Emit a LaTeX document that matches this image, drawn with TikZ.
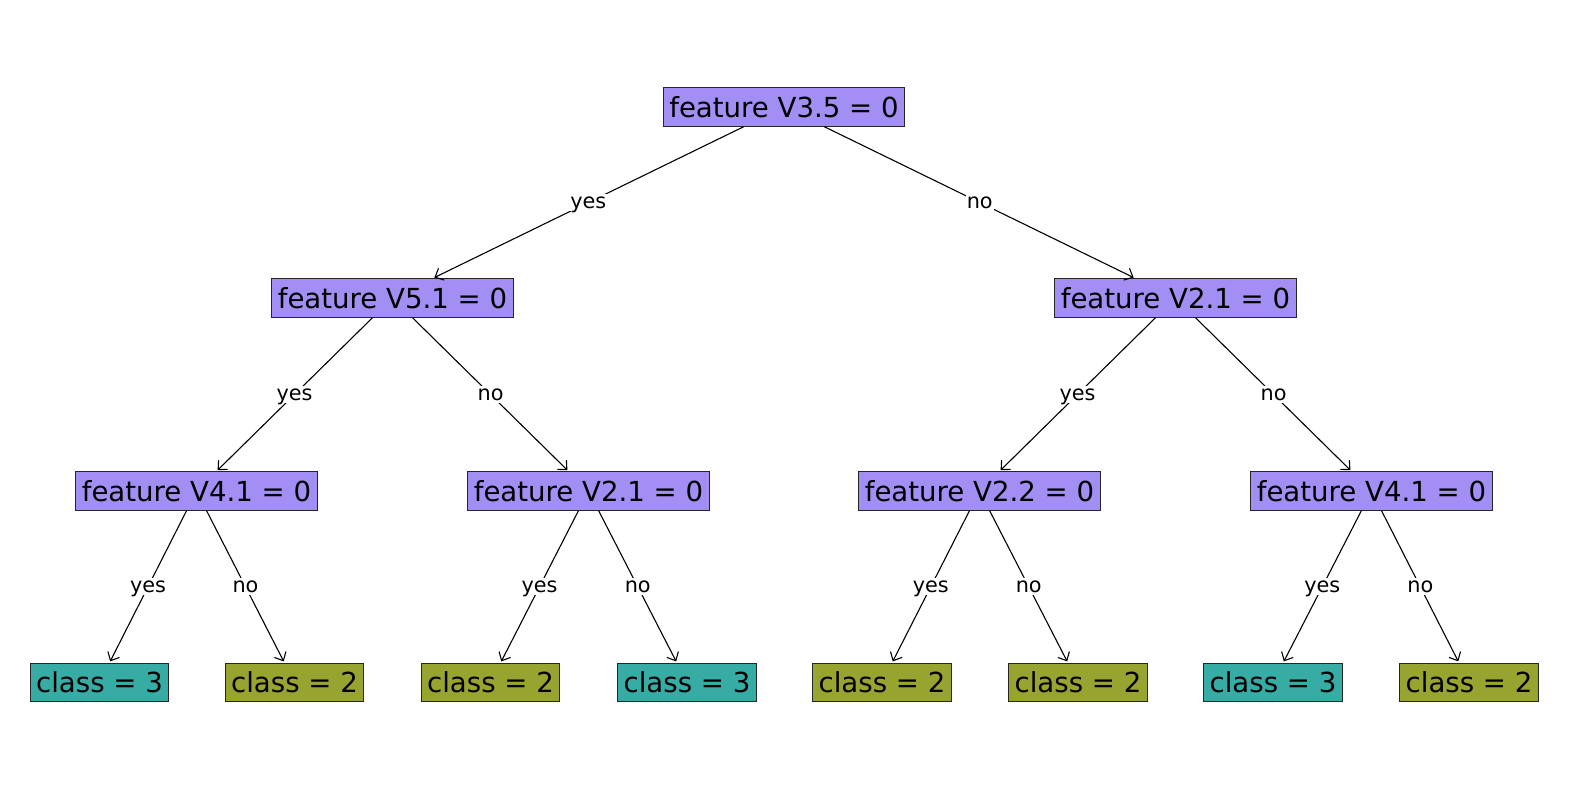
\documentclass[tikz,border=0pt]{standalone}
\usepackage{fontspec}
\setmainfont{DejaVu Sans}
\usetikzlibrary{arrows.meta}

\definecolor{splitfill}{RGB}{163,142,243}
\definecolor{classthree}{RGB}{54,172,164}
\definecolor{classtwo}{RGB}{151,164,48}

\begin{document}
\begin{tikzpicture}[
  x=1pt, y=-1pt,
  box/.style={draw=black!85, line width=1pt, inner xsep=6pt, inner ysep=0pt,
              minimum height=38.5pt, font=\fontsize{27.6}{30}\selectfont},
  split/.style={box, fill=splitfill},
  leafthree/.style={box, fill=classthree},
  leaftwo/.style={box, fill=classtwo},
  edge/.style={line width=1.1pt, -{Straight Barb[length=7pt, width=13pt]}, shorten >=1.5pt},
  lbl/.style={fill=white, inner sep=1pt, text height=13pt, text depth=2pt,
              font=\fontsize{20.8}{24}\selectfont}
]
  \useasboundingbox (0,0) rectangle (1570,790);
  \node[split] (r) at (784,107) {feature V3.5 = 0};
  \node[split] (a) at (392.5,298) {feature V5.1 = 0};
  \node[split] (b) at (1175.5,298) {feature V2.1 = 0};
  \draw[edge] (r) -- node[lbl] {yes} (a);
  \draw[edge] (r) -- node[lbl] {no} (b);
  \node[split] (aa) at (196.5,491) {feature V4.1 = 0};
  \node[split] (ab) at (588.5,491) {feature V2.1 = 0};
  \node[split] (ba) at (979.5,491) {feature V2.2 = 0};
  \node[split] (bb) at (1371.5,491) {feature V4.1 = 0};
  \draw[edge] (a) -- node[lbl] {yes} (aa);
  \draw[edge] (a) -- node[lbl] {no} (ab);
  \draw[edge] (b) -- node[lbl] {yes} (ba);
  \draw[edge] (b) -- node[lbl] {no} (bb);
  \node[leafthree] (l1) at (99.5,682.5) {class = 3};
  \node[leaftwo] (l2) at (294.5,682.5) {class = 2};
  \node[leaftwo] (l3) at (490.5,682.5) {class = 2};
  \node[leafthree] (l4) at (687,682.5) {class = 3};
  \node[leaftwo] (l5) at (882,682.5) {class = 2};
  \node[leaftwo] (l6) at (1078,682.5) {class = 2};
  \node[leafthree] (l7) at (1273,682.5) {class = 3};
  \node[leaftwo] (l8) at (1469,682.5) {class = 2};
  \draw[edge] (aa) -- node[lbl] {yes} (l1);
  \draw[edge] (aa) -- node[lbl] {no} (l2);
  \draw[edge] (ab) -- node[lbl] {yes} (l3);
  \draw[edge] (ab) -- node[lbl] {no} (l4);
  \draw[edge] (ba) -- node[lbl] {yes} (l5);
  \draw[edge] (ba) -- node[lbl] {no} (l6);
  \draw[edge] (bb) -- node[lbl] {yes} (l7);
  \draw[edge] (bb) -- node[lbl] {no} (l8);
\end{tikzpicture}
\end{document}
